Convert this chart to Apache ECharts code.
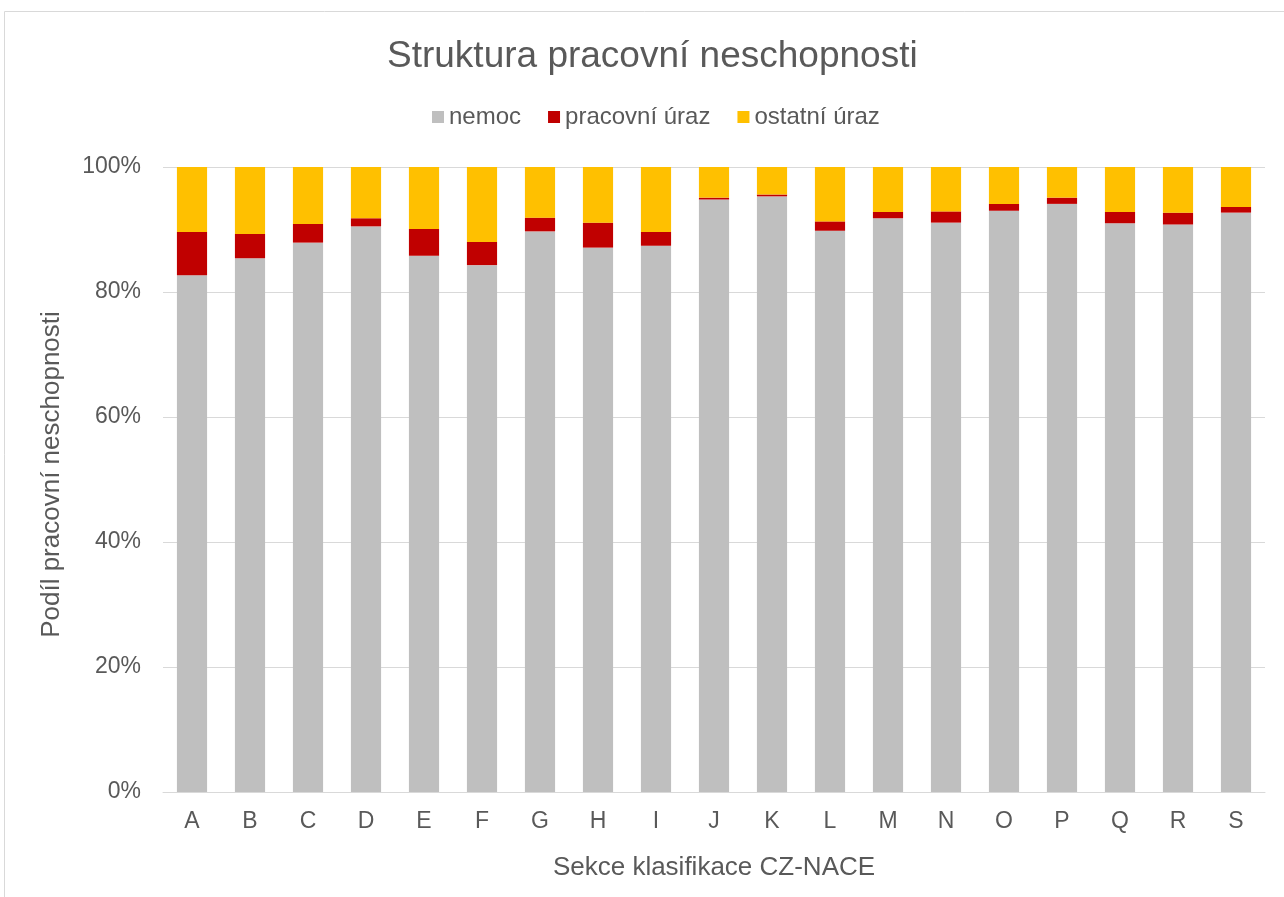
<!DOCTYPE html>
<html>
<head>
<meta charset="utf-8">
<script src="https://cdn.jsdelivr.net/npm/echarts@6/dist/echarts.min.js"></script>
<style>
  html, body { margin: 0; padding: 0; background: #fff; }
  #chart { width: 1284px; height: 897px; }
</style>
</head>
<body>
<div id="chart"></div>
<script>
// sekce CZ-NACE
const categories = ['A', 'B', 'C', 'D', 'E', 'F', 'G', 'H', 'I', 'J', 'K', 'L', 'M', 'N', 'O', 'P', 'Q', 'R', 'S'];
// podíly v %
const nemoc = [82.7, 85.4, 87.9, 90.5, 85.8, 84.3, 89.7, 87.1, 87.4, 94.8, 95.3, 89.8, 91.8, 91.1, 93.0, 94.1, 91.0, 90.8, 92.7];
const pracovniUraz = [6.9, 3.9, 3.0, 1.3, 4.3, 3.7, 2.2, 4.0, 2.2, 0.3, 0.3, 1.5, 1.0, 1.8, 1.1, 1.0, 1.8, 1.9, 0.9];
const ostatniUraz = [10.4, 10.7, 9.1, 8.2, 9.9, 12.0, 8.1, 8.9, 10.4, 4.9, 4.4, 8.7, 7.2, 7.1, 5.9, 4.9, 7.2, 7.3, 6.4];
const yTicks = [0, 20, 40, 60, 80, 100];

const chart = echarts.init(document.getElementById('chart'));
const font = 'Liberation Sans, Arial, sans-serif';
const textColor = '#595959';

chart.setOption({
  animation: false,
  graphic: [{
    type: 'rect',
    shape: { x: 4.5, y: 11.5, width: 1300, height: 900 },
    style: { fill: 'none', stroke: '#d9d9d9', lineWidth: 1 },
    silent: true
  }],
  title: {
    text: 'Struktura pracovní neschopnosti',
    left: 387,
    top: 38,
    padding: 0,
    textStyle: { fontFamily: font, fontSize: 37, fontWeight: 'normal', color: textColor }
  },
  legend: {
    top: 105,
    left: 432,
    padding: 0,
    itemWidth: 12,
    itemHeight: 12,
    itemGap: 27,
    icon: 'rect',
    textStyle: { fontFamily: font, fontSize: 24, color: textColor },
    data: ['nemoc', 'pracovní úraz', 'ostatní úraz']
  },
  grid: { left: 163, right: 19, top: 167, bottom: 105 },
  xAxis: {
    type: 'category',
    data: categories,
    name: 'Sekce klasifikace CZ-NACE',
    nameLocation: 'middle',
    nameGap: 63,
    nameTextStyle: { fontFamily: font, fontSize: 26, color: textColor },
    axisLine: { lineStyle: { color: '#d9d9d9', width: 1 } },
    axisTick: { show: false },
    axisLabel: { fontFamily: font, fontSize: 23, color: textColor, margin: 18 }
  },
  yAxis: {
    type: 'value',
    min: 0,
    max: 100,
    interval: 20,
    name: 'Podíl pracovní neschopnosti',
    nameLocation: 'middle',
    nameGap: 98,
    nameTextStyle: { fontFamily: font, fontSize: 26, color: textColor, padding: [0, 0, 0, 10] },
    axisLine: { show: false },
    axisTick: { show: false },
    splitLine: { lineStyle: { color: '#d9d9d9', width: 1 } },
    axisLabel: {
      fontFamily: font, fontSize: 23, color: textColor, margin: 22,
      formatter: v => yTicks.includes(v) ? v + '%' : ''
    }
  },
  series: [
    { name: 'nemoc', type: 'bar', stack: 'total', data: nemoc, barCategoryGap: '48%', itemStyle: { color: '#bfbfbf' } },
    { name: 'pracovní úraz', type: 'bar', stack: 'total', data: pracovniUraz, itemStyle: { color: '#c00000' } },
    { name: 'ostatní úraz', type: 'bar', stack: 'total', data: ostatniUraz, itemStyle: { color: '#ffc000' } }
  ]
});
</script>
</body>
</html>
